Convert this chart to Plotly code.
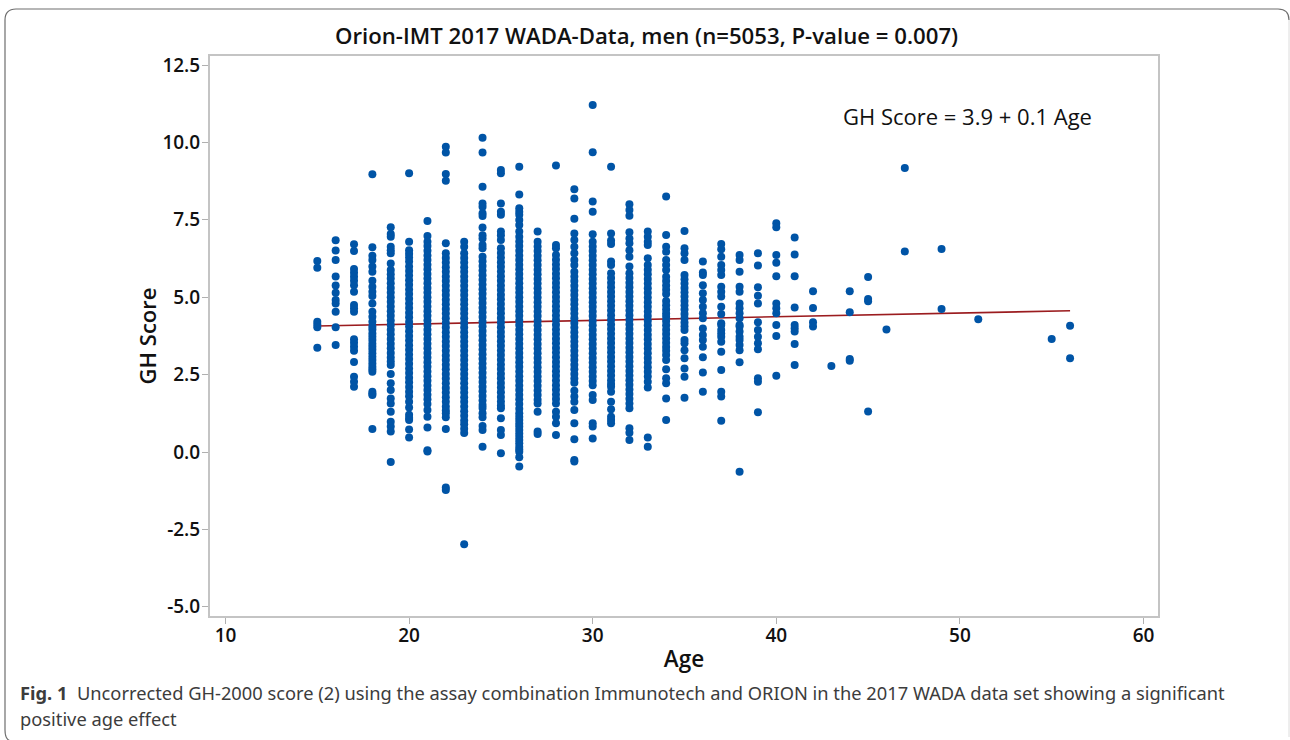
import plotly.graph_objects as go

age_15 = [6.17, 5.95, 4.21, 4.12, 4.03, 3.37]
age_16 = [6.84, 6.51, 6.2, 5.67, 5.38, 5.14, 4.91, 4.8, 4.53, 4.03, 3.46]
age_17 = [6.71, 6.49, 5.91, 5.79, 5.66, 5.53, 5.39, 5.18, 4.75, 4.64, 4.53,
          3.64, 3.53, 3.4, 3.27, 2.91, 2.43, 2.27, 2.11]
age_18 = [8.97, 6.61, 6.34, 6.2, 5.99, 5.82, 5.53, 5.34, 5.18, 5.04, 4.8, 4.53, 4.37, 4.21, 4.05,
          3.96, 3.83, 3.72, 3.62, 3.5, 3.4, 3.3, 3.19, 3.08, 2.97, 2.86, 2.75, 2.67, 2.59,
          1.95, 1.88, 1.84, 0.74]
age_19 = [7.26, 7.04, 6.95, 6.63, 6.52, 6.42, 6.09, 5.88, 5.74, 5.6, 5.45, 5.3, 5.15, 5.0, 4.85,
          4.7, 4.55, 4.4, 4.25, 4.1, 3.95, 3.8, 3.65, 3.5, 3.35, 3.2, 3.05, 2.92, 2.81,
          2.52, 2.22, 2.0, 1.73, 1.57, 1.3, 0.98, 0.82, 0.66, -0.32]
age_20 = [9.0, 6.79, 6.52, 6.4, 6.28, 6.15, 5.99, 5.85, 5.7, 5.55, 5.4, 5.25, 5.1, 4.95, 4.8, 4.65,
          4.5, 4.35, 4.2, 4.05, 3.9, 3.75, 3.6, 3.45, 3.3, 3.15, 3.0, 2.85, 2.7, 2.55, 2.4, 2.25,
          2.1, 1.95, 1.8, 1.62, 1.44, 1.2, 1.1, 1.03, 0.73, 0.47]
age_21 = [7.46, 6.98, 6.79, 6.65, 6.5, 6.35, 6.2, 6.05, 5.9, 5.75, 5.6, 5.45, 5.3, 5.15, 5.0, 4.85,
          4.7, 4.55, 4.4, 4.25, 4.1, 3.95, 3.8, 3.65, 3.5, 3.35, 3.2, 3.05, 2.9, 2.75, 2.6, 2.45,
          2.3, 2.15, 2.0, 1.85, 1.7, 1.55, 1.36, 1.14, 0.79, 0.06, 0.02]
age_22 = [9.86, 9.67, 8.98, 8.76, 6.74, 6.42, 6.27, 6.12, 5.97, 5.82, 5.67, 5.52, 5.37, 5.22, 5.07,
          4.92, 4.77, 4.62, 4.47, 4.32, 4.17, 4.02, 3.87, 3.72, 3.57, 3.42, 3.27, 3.12, 2.97, 2.82,
          2.67, 2.52, 2.37, 2.22, 2.07, 1.92, 1.77, 1.62, 1.47, 1.34, 1.25, 1.12, 0.74, -1.15, -1.23]
age_23 = [6.79, 6.63, 6.42, 6.27, 6.12, 5.97, 5.82, 5.67, 5.52, 5.37, 5.22, 5.07, 4.92, 4.77, 4.62,
          4.47, 4.32, 4.17, 4.02, 3.87, 3.72, 3.57, 3.42, 3.27, 3.12, 2.97, 2.82, 2.67, 2.52, 2.37,
          2.22, 2.07, 1.92, 1.77, 1.62, 1.47, 1.32, 1.17, 1.02, 0.9, 0.75, 0.61, -2.98]
age_24 = [10.15, 9.67, 8.57, 8.03, 7.92, 7.71, 7.62, 7.25, 7.0, 6.9, 6.69, 6.58, 6.31, 6.16, 6.01,
          5.86, 5.71, 5.56, 5.41, 5.26, 5.11, 4.96, 4.81, 4.66, 4.51, 4.36, 4.21, 4.06, 3.91, 3.76,
          3.61, 3.46, 3.31, 3.16, 3.01, 2.86, 2.71, 2.56, 2.41, 2.26, 2.11, 1.96, 1.81, 1.66, 1.52,
          1.42, 1.25, 1.12, 0.84, 0.71, 0.17]
age_25 = [9.11, 9.0, 8.03, 7.76, 7.66, 7.12, 7.0, 6.85, 6.58, 6.43, 6.28, 6.13, 5.98, 5.83, 5.68,
          5.53, 5.38, 5.23, 5.08, 4.93, 4.78, 4.63, 4.48, 4.33, 4.18, 4.03, 3.88, 3.73, 3.58, 3.43,
          3.28, 3.13, 2.98, 2.83, 2.68, 2.53, 2.38, 2.23, 2.08, 1.93, 1.78, 1.63, 1.5, 1.41, 1.09,
          0.71, 0.55, -0.04]
age_26 = [9.21, 8.32, 7.87, 7.76, 7.66, 7.49, 7.33, 7.12, 6.95, 6.8, 6.65, 6.5, 6.35, 6.2, 6.05,
          5.9, 5.75, 5.6, 5.45, 5.3, 5.15, 5.0, 4.85, 4.7, 4.55, 4.4, 4.25, 4.1, 3.95, 3.8, 3.65,
          3.5, 3.35, 3.2, 3.05, 2.9, 2.75, 2.6, 2.45, 2.3, 2.15, 2.0, 1.85, 1.7, 1.55, 1.4, 1.25,
          1.14, 1.03, 0.92, 0.82, 0.71, 0.6, 0.49, 0.39, 0.28, 0.17, 0.08, 0.01, -0.17, -0.47]
age_27 = [7.12, 6.79, 6.64, 6.49, 6.34, 6.19, 6.04, 5.89, 5.74, 5.59, 5.44, 5.29, 5.14, 4.99, 4.84,
          4.69, 4.54, 4.39, 4.24, 4.09, 3.94, 3.79, 3.64, 3.49, 3.34, 3.19, 3.04, 2.89, 2.74, 2.59,
          2.44, 2.29, 2.14, 1.99, 1.84, 1.69, 1.57, 1.3, 0.66, 0.58]
age_28 = [9.25, 6.69, 6.58, 6.36, 6.21, 6.06, 5.91, 5.76, 5.61, 5.46, 5.31, 5.16, 5.01, 4.86, 4.71,
          4.56, 4.41, 4.26, 4.11, 3.96, 3.81, 3.66, 3.51, 3.36, 3.21, 3.06, 2.91, 2.76, 2.61, 2.46,
          2.31, 2.16, 2.01, 1.86, 1.71, 1.57, 1.3, 1.14, 0.93, 0.55]
age_29 = [8.49, 8.19, 7.53, 7.06, 6.85, 6.63, 6.42, 6.2, 6.04, 5.82, 5.67, 5.52, 5.37, 5.22, 5.07,
          4.92, 4.77, 4.62, 4.47, 4.32, 4.17, 4.02, 3.87, 3.72, 3.57, 3.42, 3.27, 3.12, 2.97, 2.82,
          2.67, 2.52, 2.37, 2.24, 1.98, 1.79, 1.62, 1.36, 0.93, 0.41, -0.26, -0.31]
age_30 = [11.21, 9.68, 8.09, 7.76, 7.03, 6.79, 6.64, 6.49, 6.34, 6.19, 6.04, 5.89, 5.74, 5.59, 5.44,
          5.29, 5.14, 4.99, 4.84, 4.69, 4.54, 4.39, 4.24, 4.09, 3.94, 3.79, 3.64, 3.49, 3.34, 3.19,
          3.04, 2.89, 2.74, 2.59, 2.44, 2.29, 2.16, 1.84, 1.68, 0.93, 0.82, 0.44]
age_31 = [9.21, 7.06, 6.83, 6.72, 6.15, 6.04, 5.77, 5.62, 5.47, 5.32, 5.17, 5.02, 4.87, 4.72, 4.57,
          4.42, 4.27, 4.12, 3.97, 3.82, 3.67, 3.52, 3.37, 3.22, 3.07, 2.92, 2.77, 2.62, 2.47, 2.32,
          2.2, 2.11, 1.95, 1.62, 1.38, 1.14, 1.03, 0.93]
age_32 = [8.0, 7.82, 7.63, 7.1, 6.9, 6.74, 6.52, 6.31, 5.99, 5.77, 5.62, 5.47, 5.32, 5.17, 5.02,
          4.87, 4.72, 4.57, 4.42, 4.27, 4.12, 3.97, 3.82, 3.67, 3.52, 3.37, 3.22, 3.07, 2.92, 2.77,
          2.62, 2.47, 2.32, 2.17, 2.02, 1.87, 1.72, 1.57, 1.41, 0.77, 0.62, 0.39]
age_33 = [7.12, 6.95, 6.79, 6.69, 6.26, 6.04, 5.89, 5.74, 5.59, 5.44, 5.29, 5.14, 4.99, 4.84, 4.69,
          4.54, 4.39, 4.24, 4.09, 3.94, 3.79, 3.64, 3.49, 3.34, 3.19, 3.04, 2.89, 2.74, 2.59, 2.44,
          2.27, 2.08, 0.47, 0.17]
age_34 = [8.25, 7.01, 6.63, 6.47, 6.2, 6.04, 5.88, 5.66, 5.52, 5.38, 5.24, 5.1, 4.88, 4.74, 4.6,
          4.47, 4.37, 4.23, 4.09, 3.95, 3.81, 3.67, 3.53, 3.39, 3.27, 3.13, 2.97, 2.67, 2.38, 2.22,
          1.73, 1.03]
age_35 = [7.14, 6.58, 6.42, 6.2, 5.72, 5.58, 5.44, 5.3, 5.16, 5.02, 4.88, 4.74, 4.6, 4.46, 4.32,
          4.18, 4.06, 3.94, 3.62, 3.51, 3.29, 3.03, 2.7, 2.43, 1.75]
age_36 = [6.15, 5.8, 5.72, 5.39, 5.13, 4.91, 4.69, 4.48, 4.32, 3.99, 3.78, 3.62, 3.4, 3.06, 2.57, 1.95]
age_37 = [6.72, 6.55, 6.31, 6.04, 5.88, 5.72, 5.34, 5.18, 5.02, 4.69, 4.46, 4.16, 4.1, 3.94, 3.83,
          3.72, 3.56, 3.24, 2.65, 1.95, 1.79, 1.01]
age_38 = [6.36, 6.2, 5.82, 5.34, 5.18, 4.8, 4.64, 4.48, 4.32, 4.1, 4.05, 3.89, 3.72, 3.62, 3.46,
          3.29, 2.9, -0.64]
age_39 = [6.42, 6.02, 5.32, 5.05, 4.8, 4.19, 3.94, 3.72, 3.51, 3.32, 2.38, 2.27, 1.28]
age_40 = [7.39, 7.26, 6.36, 6.11, 5.68, 4.8, 4.64, 4.48, 4.1, 3.75, 2.46]
age_41 = [6.93, 6.38, 5.68, 4.67, 4.1, 4.0, 3.89, 3.49, 2.81]
age_42 = [5.19, 4.65, 4.19, 4.05]
age_43 = [2.78]
age_44 = [5.19, 4.51, 3.0, 2.95]
age_45 = [5.65, 4.94, 4.87, 1.31]
age_46 = [3.96]
age_47 = [9.17, 6.48]
age_49 = [6.56, 4.62]
age_51 = [4.29]
age_55 = [3.65]
age_56 = [4.08, 3.03]

ages = [15, 16, 17, 18, 19, 20, 21, 22, 23, 24, 25, 26, 27, 28, 29, 30, 31, 32, 33, 34, 35,
        36, 37, 38, 39, 40, 41, 42, 43, 44, 45, 46, 47, 49, 51, 55, 56]
scores = [age_15, age_16, age_17, age_18, age_19, age_20, age_21, age_22, age_23, age_24, age_25,
          age_26, age_27, age_28, age_29, age_30, age_31, age_32, age_33, age_34, age_35, age_36,
          age_37, age_38, age_39, age_40, age_41, age_42, age_43, age_44, age_45, age_46, age_47,
          age_49, age_51, age_55, age_56]

fit_age = [15, 56]
fit_score = [4.07, 4.56]

x_ticks = [10, 20, 30, 40, 50, 60]
y_ticks = [-5, -2.5, 0, 2.5, 5, 7.5, 10, 12.5]
y_labels = ["-5.0", "-2.5", "0.0", "2.5", "5.0", "7.5", "10.0", "12.5"]

W, H = 1290, 740
L, R, T, B = 210, 1158, 56, 616
PW, PH = R - L, B - T


def px(x):
    return (x - L) / PW


def py(y):
    return (B - y) / PH


FONT = "Open Sans"
xs, ys = [], []
for a, vals in zip(ages, scores):
    xs.extend([a] * len(vals))
    ys.extend(vals)

fig = go.Figure()
fig.add_trace(go.Scatter(x=fit_age, y=fit_score, mode="lines",
                         line=dict(color="#9b1c1f", width=1.6), showlegend=False))
fig.add_trace(go.Scatter(x=xs, y=ys, mode="markers", cliponaxis=False,
                         marker=dict(size=8, color="#0054a6", line=dict(width=0)),
                         showlegend=False))

axis_style = dict(showgrid=False, zeroline=False, showline=True, linecolor="#c4c4c4", linewidth=2,
                  mirror=True, ticks="outside", ticklen=6, tickwidth=1, tickcolor="#b0b0b0")
fig.update_xaxes(range=[10 + (L - 225.5) / 18.36, 10 + (R - 225.5) / 18.36],
                 tickvals=x_ticks, ticktext=[str(t) for t in x_ticks], ticklabelstandoff=-5,
                 tickfont=dict(family=FONT, size=19, color="#111111", weight=600),
                 title=dict(text="Age", standoff=4, font=dict(family=FONT, size=22.5, color="#111111", weight=600)),
                 **axis_style)
fig.update_yaxes(range=[(452 - B) / 30.96, (452 - T) / 30.96],
                 tickvals=y_ticks, ticktext=y_labels, ticklabelstandoff=-2,
                 tickfont=dict(family=FONT, size=19, color="#111111", weight=600),
                 title=dict(text="GH Score", standoff=0, font=dict(family=FONT, size=22, color="#111111", weight=600)),
                 **axis_style)

ann = [
    dict(x=px(646), y=py(36), text="Orion-IMT 2017 WADA-Data, men (n=5053, P-value = 0.007)",
         font=dict(family=FONT, size=22.2, color="#111111", weight=600)),
    dict(x=px(967), y=py(116.5), text="GH Score = 3.9 + 0.1 Age",
         font=dict(family=FONT, size=22, color="#111111")),
    dict(x=px(18), y=py(692), xanchor="left",
         text="<b>Fig. 1</b>  Uncorrected GH-2000 score (2) using the assay combination Immunotech and ORION in the 2017 WADA data set showing a significant",
         font=dict(family="Noto Sans", size=18.3, color="#3c3c3c")),
    dict(x=px(18), y=py(718), xanchor="left", text="positive age effect",
         font=dict(family="Noto Sans", size=18.3, color="#3c3c3c")),
]
for a in ann:
    a.update(xref="paper", yref="paper", showarrow=False)
    a.setdefault("xanchor", "center")
    a["yanchor"] = "middle"

r = 11
x0, x1, y0, y1 = 5, 1289, 9, 741
frame_dark = (f"M {px(x0 + 6)} {py(y1)} Q {px(x0)} {py(y1 - 1)} {px(x0)} {py(y1 - r)} "
              f"L {px(x0)} {py(y0 + r)} Q {px(x0)} {py(y0)} {px(x0 + r)} {py(y0)} "
              f"L {px(x1 - r)} {py(y0)} Q {px(x1)} {py(y0)} {px(x1)} {py(y0 + r)}")
frame_light = f"M {px(x1)} {py(y0 + r)} L {px(x1)} {py(y1 - 4)}"

fig.update_layout(width=W, height=H, margin=dict(l=L, r=W - R, t=T, b=H - B),
                  plot_bgcolor="white", paper_bgcolor="white", annotations=ann,
                  shapes=[dict(type="path", xref="paper", yref="paper", path=frame_dark,
                               line=dict(color="#6e6e6e", width=1.2)),
                          dict(type="path", xref="paper", yref="paper", path=frame_light,
                               line=dict(color="#dcdcdc", width=1))])

fig.write_html("out.html", config={"displayModeBar": False},
               post_script="document.body.style.margin='0';document.body.style.overflow='hidden';")
